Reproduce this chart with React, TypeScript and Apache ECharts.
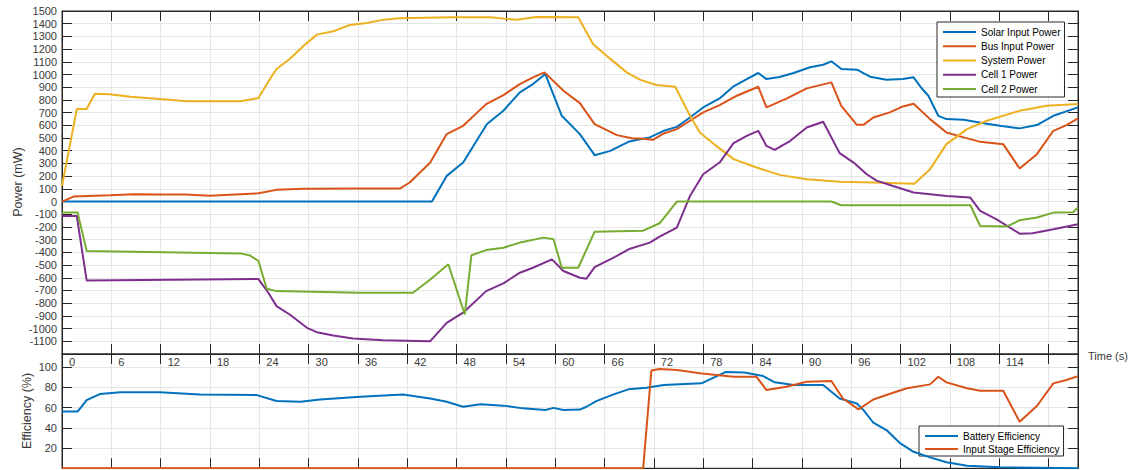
import React, { useEffect, useRef } from "react";
import * as echarts from "echarts";

// ---- Data (time in s, value) ----
const solarInputPower: [number, number][] = [
  [0, 0], [45, 0], [46.8, 202], [48.8, 307], [51.7, 610], [53.7, 715], [55.7, 860], [57.3, 925], [58.8, 1004],
  [60.8, 675], [63.0, 531], [64.8, 365], [66.7, 399], [68.9, 470], [70.3, 491], [71.5, 505], [73.2, 557],
  [74.8, 588], [76.4, 662], [78.0, 741], [80.0, 812], [81.7, 907], [83.3, 964], [84.7, 1012], [85.7, 964],
  [87.3, 980], [89.0, 1012], [91.0, 1057], [92.6, 1077], [93.6, 1104], [94.8, 1043], [96.7, 1038], [98.3, 983],
  [100.3, 959], [102.3, 964], [103.6, 978], [104.6, 890], [105.4, 833], [106.6, 675], [107.6, 649], [109.7, 644],
  [112.1, 617], [114.1, 596], [116.5, 576], [118.6, 602], [120.6, 675], [123.6, 741],
];
const busInputPower: [number, number][] = [
  [0, 0], [1.4, 39], [5.8, 50], [8.8, 58], [12, 55], [15, 55], [18, 45], [21.7, 58], [23.9, 65], [26.1, 92],
  [29.4, 100], [36.2, 102], [41.1, 102], [42.3, 150], [44.8, 307], [46.8, 531], [48.8, 596], [51.6, 767],
  [53.7, 838], [55.7, 925], [57.3, 978], [58.7, 1017], [61.0, 872], [63.0, 775], [64.8, 610], [67.5, 523],
  [69.5, 497], [70.3, 497], [71.9, 486], [73.2, 536], [74.8, 570], [76.4, 636], [78.0, 702], [80.0, 759],
  [82.1, 833], [84.7, 904], [85.7, 741], [88.2, 812], [90.6, 891], [93.6, 938], [94.8, 754], [96.7, 604],
  [97.5, 604], [98.7, 662], [100.7, 702], [102.3, 749], [103.6, 770], [105.6, 649], [107.6, 544], [109.7, 505],
  [111.7, 470], [114.5, 452], [116.5, 260], [118.6, 373], [120.6, 557], [122.2, 602], [123.6, 654],
];
const systemPower: [number, number][] = [
  [0, 123], [1.8, 728], [3.0, 728], [4.0, 848], [5.8, 845], [8.3, 825], [11.9, 807], [15.2, 789], [21.7, 789],
  [23.9, 815], [25.3, 965], [26.1, 1043], [27.7, 1122], [29.4, 1227], [31.0, 1314], [33.0, 1340], [35.0, 1390],
  [37.1, 1406], [39.1, 1432], [41.1, 1443], [47.2, 1451], [52.1, 1451], [54.1, 1438], [55.3, 1432], [57.7, 1453],
  [62.8, 1451], [64.6, 1240], [66.7, 1123], [68.7, 1017], [70.3, 960], [72.3, 917], [74.6, 904], [76.4, 675],
  [77.6, 544], [79.6, 438], [81.7, 334], [84.5, 268], [87.3, 210], [90.6, 176], [94.6, 155], [98.7, 150],
  [103.7, 140], [105.6, 255], [107.6, 452], [110.1, 570], [112.5, 636], [116.5, 715], [119.8, 754], [123.6, 767],
];
const cell1Power: [number, number][] = [
  [0, -114], [1.8, -114], [3.0, -621], [23.9, -610], [25.1, -718], [26.1, -823], [27.7, -889], [29.8, -994],
  [31.0, -1028], [33.0, -1054], [35.4, -1078], [39.1, -1091], [44.8, -1099], [46.8, -955], [48.8, -875],
  [51.6, -705], [53.7, -644], [55.7, -560], [57.3, -521], [59.6, -455], [61.0, -547], [63.0, -600], [63.8, -607],
  [64.8, -516], [67.1, -442], [69.1, -371], [71.5, -323], [72.7, -276], [74.8, -205], [76.4, 44], [78.0, 215],
  [80.0, 307], [81.7, 460], [83.3, 517], [84.7, 557], [85.7, 438], [86.7, 407], [88.6, 478], [90.6, 583],
  [92.6, 628], [94.6, 381], [96.3, 307], [97.9, 215], [99.1, 165], [101.1, 123], [103.6, 71], [107.6, 44],
  [110.5, 31], [111.7, -74], [113.7, -140], [116.5, -253], [118.1, -250], [120.6, -218], [123.6, -179],
];
const cell2Power: [number, number][] = [
  [0, -87], [1.9, -87], [3.0, -389], [21.7, -408], [22.9, -425], [23.9, -468], [24.9, -686], [26.1, -705],
  [36.2, -718], [42.7, -718], [44.8, -613], [47.0, -494], [49.0, -889], [49.8, -423], [51.6, -382], [53.7, -363],
  [55.7, -323], [58.6, -284], [59.8, -297], [60.8, -521], [62.8, -521], [64.8, -237], [70.7, -229], [72.7, -171],
  [74.8, 0], [93.6, 0], [94.8, -29], [110.5, -29], [111.7, -192], [114.9, -197], [116.5, -147], [118.6, -126],
  [120.6, -87], [123.0, -84], [123.6, -47],
];
const batteryEfficiency: [number, number][] = [
  [0, 56], [1.9, 56], [3.0, 67.4], [4.6, 73.3], [7.1, 75], [11.9, 75], [16.8, 73], [23.7, 72.3], [26.1, 66.4],
  [29.0, 65.7], [31.4, 68], [36.3, 70.7], [41.5, 73], [44.8, 69], [46.8, 65.7], [48.8, 60.8], [50.9, 63.2],
  [53.7, 61.9], [56.1, 59.2], [58.8, 57.5], [59.8, 59.7], [61.0, 57.5], [63.0, 58], [63.8, 60.8], [65.0, 66.4],
  [67.1, 73], [68.9, 78], [71.1, 79.6], [73.2, 82.2], [77.8, 83.9], [80.7, 95], [83.0, 94.6], [85.3, 91.1],
  [86.7, 84.9], [89.0, 82.2], [92.6, 82.2], [94.6, 69], [96.7, 64], [97.5, 57.5], [98.7, 45], [100.3, 37.8],
  [101.9, 25.2], [103.6, 16.3], [105.6, 10.8], [107.6, 5.9], [110.1, 2.5], [114.1, 1], [123.6, 0],
];
const inputStageEfficiency: [number, number][] = [
  [0, 0], [70.7, 0], [71.7, 96.5], [72.7, 98], [74.8, 97], [77.6, 93.8], [81.7, 90.4], [84.5, 90.4], [85.7, 77.3],
  [88.1, 80.6], [90.6, 85.5], [93.6, 86.2], [95.0, 69], [96.9, 58.2], [98.7, 68], [101.1, 74.6], [102.8, 79],
  [105.6, 82.9], [106.6, 90.4], [107.6, 84.9], [110.1, 79], [111.7, 76.6], [114.5, 76.6], [116.5, 46],
  [118.6, 61.5], [120.6, 83.9], [122.2, 87.2], [123.6, 91],
];

const powerNames = ["Solar Input Power", "Bus Input Power", "System Power", "Cell 1 Power", "Cell 2 Power"];
const effNames = ["Battery Efficiency", "Input Stage Efficiency"];
const timeMax = 123.6;
const timeStep = 6;
const powerMin = -1200;
const powerMax = 1500;
const powerStep = 100;
const effMin = 0;
const effMax = 112.9;
const effStep = 20;

const COLORS = ["#0072BD", "#D95319", "#EDB120", "#7E2F8E", "#77AC30"];
const FONT = "Liberation Sans, Arial, sans-serif";
const AXIS = "#262626";
const GRIDC = "#e6e6e6";
const TXT = "#3a3a3a";

export default function App() {
  const ref = useRef<HTMLDivElement>(null);
  useEffect(() => {
    if (!ref.current) return;
    const chart = echarts.init(ref.current, undefined, { renderer: "svg" });
    const tick = { show: true, inside: true, length: 10, lineStyle: { color: AXIS, width: 1 } };
    const line = { show: true, lineStyle: { color: AXIS, width: 1 } };
    const xBase = (gridIndex: number, position: string, showLabel: boolean, showSplit: boolean) => ({
      type: "value",
      gridIndex,
      position,
      min: 0,
      max: timeMax,
      interval: timeStep,
      axisLine: { ...line, onZero: false },
      axisTick: tick,
      splitLine: { show: showSplit, lineStyle: { color: GRIDC, width: 1 } },
      axisLabel: showLabel
        ? {
            show: true,
            margin: 2,
            align: "left",
            padding: [0, 0, 0, 7],
            color: TXT,
            fontSize: 11,
            fontFamily: FONT,
            formatter: (v: number) => (v % timeStep === 0 && v < 120 ? String(v) : ""),
          }
        : { show: false },
    });
    const yBase = (
      gridIndex: number,
      position: string,
      min: number,
      max: number,
      step: number,
      showLabel: boolean,
      showSplit: boolean,
      labelOk: (v: number) => boolean
    ) => ({
      type: "value",
      gridIndex,
      position,
      min,
      max,
      interval: step,
      axisLine: { ...line, onZero: false },
      axisTick: tick,
      splitLine: { show: showSplit, lineStyle: { color: GRIDC, width: 1 } },
      axisLabel: showLabel
        ? {
            show: true,
            margin: 5,
            color: TXT,
            fontSize: 11,
            fontFamily: FONT,
            formatter: (v: number) => (labelOk(v) ? String(v) : ""),
          }
        : { show: false },
    });
    const mk = (name: string, data: [number, number][], color: string, xi: number, yi: number) => ({
      name,
      type: "line",
      xAxisIndex: xi,
      yAxisIndex: yi,
      data,
      symbol: "none",
      showSymbol: false,
      lineStyle: { color, width: 2 },
      itemStyle: { color },
      z: 5,
    });
    const legendCommon = {
      orient: "vertical",
      icon: "rect",
      itemWidth: 33,
      itemHeight: 2,
      backgroundColor: "#ffffff",
      borderColor: AXIS,
      borderWidth: 1,
      borderRadius: 0,
      textStyle: { fontSize: 10, color: "#000", fontFamily: FONT, lineHeight: 10 },
      selectedMode: false,
    };
    chart.setOption({
      animation: false,
      backgroundColor: "#ffffff",
      textStyle: { fontFamily: FONT },
      grid: [
        { left: 62, top: 11, width: 1016, height: 343, show: true, borderColor: AXIS, borderWidth: 1, backgroundColor: "transparent" },
        { left: 62, top: 354, width: 1016, height: 114.3, show: true, borderColor: AXIS, borderWidth: 1, backgroundColor: "transparent" },
      ],
      xAxis: [
        xBase(0, "bottom", true, true),
        xBase(0, "top", false, false),
        xBase(1, "top", false, true),
        xBase(1, "bottom", false, false),
      ],
      yAxis: [
        yBase(0, "left", powerMin, powerMax, powerStep, true, true, (v) => v > powerMin && v % powerStep === 0),
        yBase(0, "right", powerMin, powerMax, powerStep, false, false, () => false),
        yBase(1, "left", effMin, effMax, effStep, true, true, (v) => v > 0 && v <= 100 && v % effStep === 0),
        yBase(1, "right", effMin, effMax, effStep, false, false, () => false),
      ],
      legend: [
        {
          ...legendCommon,
          data: powerNames,
          left: 937,
          top: 22,
          itemGap: 4.25,
          padding: [5, 4, 3, 6],
        },
        {
          ...legendCommon,
          data: effNames,
          left: 919,
          top: 426,
          itemGap: 3,
          padding: [5, 4, 2, 6],
        },
      ],
      graphic: [
        {
          type: "text",
          x: 18,
          y: 182,
          rotation: Math.PI / 2,
          style: { text: "Power (mW)", fontSize: 12.5, fontFamily: FONT, fill: TXT, align: "center", verticalAlign: "middle" },
        },
        {
          type: "text",
          x: 27,
          y: 411,
          rotation: Math.PI / 2,
          style: { text: "Efficiency (%)", fontSize: 12.5, fontFamily: FONT, fill: TXT, align: "center", verticalAlign: "middle" },
        },
        {
          type: "text",
          x: 1088,
          y: 356,
          style: { text: "Time (s)", fontSize: 11, fontFamily: FONT, fill: TXT, align: "left", verticalAlign: "middle" },
        },
      ],
      series: [
        mk(powerNames[0], solarInputPower, COLORS[0], 0, 0),
        mk(powerNames[1], busInputPower, COLORS[1], 0, 0),
        mk(powerNames[2], systemPower, COLORS[2], 0, 0),
        mk(powerNames[3], cell1Power, COLORS[3], 0, 0),
        mk(powerNames[4], cell2Power, COLORS[4], 0, 0),
        mk(effNames[0], batteryEfficiency, COLORS[0], 2, 2),
        mk(effNames[1], inputStageEfficiency, COLORS[1], 2, 2),
      ],
    });
    return () => chart.dispose();
  }, []);
  return (
    <div
      ref={ref}
      style={{ position: "absolute", left: 0, top: 0, width: 1131, height: 470, background: "#fff" }}
    />
  );
}
